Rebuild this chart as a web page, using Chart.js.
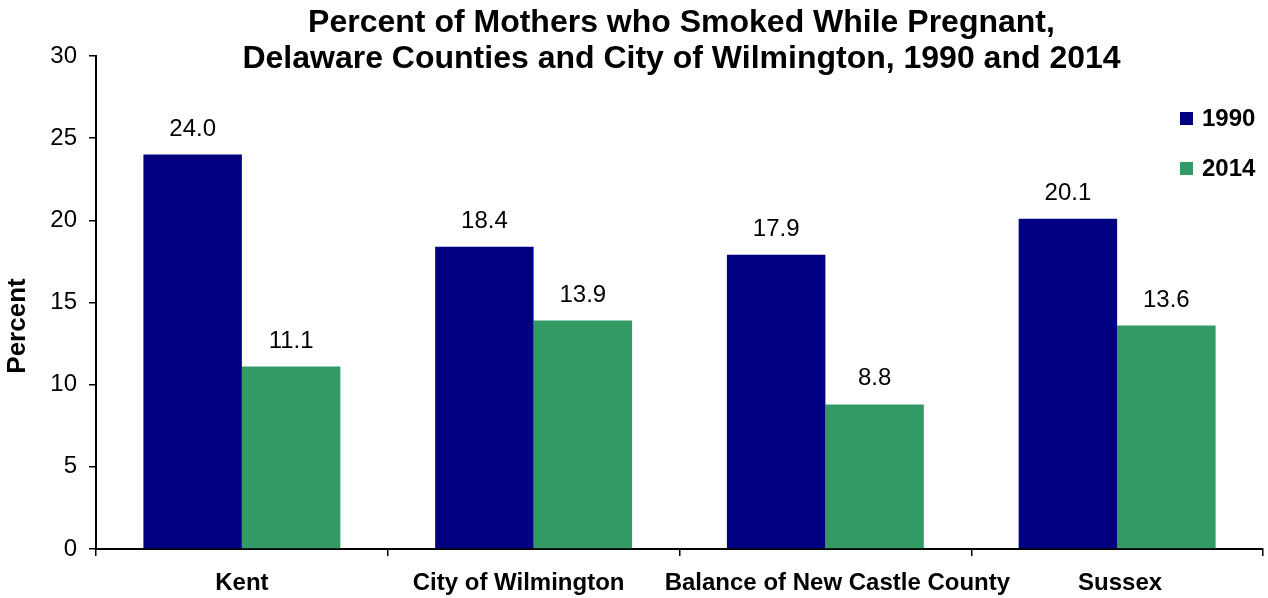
<!DOCTYPE html>
<html>
<head>
<meta charset="utf-8">
<style>
  html, body { margin: 0; padding: 0; background: #ffffff; }
  #wrap { position: relative; width: 1268px; height: 598px; }
</style>
<script src="https://cdn.jsdelivr.net/npm/chart.js@4/dist/chart.umd.min.js"></script>
</head>
<body>
<div id="wrap"><canvas id="c" width="1268" height="598"></canvas></div>
<script>
const categories = ["Kent", "City of Wilmington", "Balance of New Castle County", "Sussex"];
const values1990 = [24.0, 18.4, 17.9, 20.1];
const values2014 = [11.1, 13.9, 8.8, 13.6];
const seriesNames = ["1990", "2014"];
const titleLines = ["Percent of Mothers who Smoked While Pregnant,", "Delaware Counties and City of Wilmington, 1990 and 2014"];
const yAxisTitle = "Percent";
const yTicks = [0, 5, 10, 15, 20, 25, 30];

const FONT = "'Liberation Sans', Arial, Helvetica, sans-serif";
const NAVY = "#000080";
const GREEN = "#339966";
// small horizontal nudges of category labels (layout style, px), as in the original
const labelNudge = [0, -15, 12, 3];

const overlayPlugin = {
  id: 'overlay',
  afterDraw(chart) {
    const ctx = chart.ctx;
    const area = chart.chartArea;
    ctx.save();
    // Title
    ctx.fillStyle = '#000';
    ctx.font = "bold 32px " + FONT;
    ctx.textAlign = 'center';
    ctx.textBaseline = 'middle';
    const cx = (area.left + area.right) / 2 + 2;
    ctx.fillText(titleLines[0], cx, 23);
    ctx.fillText(titleLines[1], cx, 59);
    // Y axis title
    ctx.save();
    ctx.translate(18, 326);
    ctx.rotate(-Math.PI / 2);
    ctx.font = "bold 26px " + FONT;
    ctx.fillText(yAxisTitle, 0, 0);
    ctx.restore();
    // Category labels
    const xs = chart.scales.x;
    ctx.font = "bold 24px " + FONT;
    categories.forEach((c, i) => {
      ctx.fillText(c, xs.getPixelForValue(i) + labelNudge[i], xs.top + 34);
    });
    // Data labels
    ctx.font = "24px " + FONT;
    ctx.textBaseline = 'alphabetic';
    chart.data.datasets.forEach((ds, di) => {
      const meta = chart.getDatasetMeta(di);
      meta.data.forEach((bar, i) => {
        ctx.fillText(ds.data[i].toFixed(1), bar.x, bar.y - 19);
      });
    });
    // Legend
    const items = [{ t: seriesNames[0], c: NAVY, y: 118 }, { t: seriesNames[1], c: GREEN, y: 168 }];
    ctx.font = "bold 24px " + FONT;
    ctx.textAlign = 'left';
    ctx.textBaseline = 'middle';
    items.forEach(it => {
      ctx.fillStyle = it.c;
      ctx.fillRect(1180, it.y - 6, 13, 13);
      ctx.fillStyle = '#000';
      ctx.fillText(it.t, 1202, it.y + 1);
    });
    ctx.restore();
  }
};

new Chart(document.getElementById('c'), {
  type: 'bar',
  data: {
    labels: categories,
    datasets: [
      { label: seriesNames[0], data: values1990, backgroundColor: NAVY, borderWidth: 0 },
      { label: seriesNames[1], data: values2014, backgroundColor: GREEN, borderWidth: 0 }
    ]
  },
  options: {
    responsive: false,
    animation: false,
    devicePixelRatio: 1,
    layout: { padding: { top: 56, right: 5, left: 0, bottom: 0 } },
    categoryPercentage: 0.675,
    barPercentage: 1.0,
    plugins: {
      legend: { display: false },
      title: { display: false },
      tooltip: { enabled: false }
    },
    scales: {
      x: {
        grid: { display: true, drawOnChartArea: false, drawTicks: true, tickLength: 7, color: '#000', lineWidth: 1.5, offset: true },
        border: { display: true, color: '#000', width: 2 },
        ticks: { display: false },
        afterFit(scale) { scale.height = 49; }
      },
      y: {
        min: 0,
        max: 30,
        afterBuildTicks(scale) { scale.ticks = yTicks.map(v => ({ value: v })); },
        grid: { display: true, drawOnChartArea: false, drawTicks: true, tickLength: 7, color: '#000', lineWidth: 1.5 },
        border: { display: true, color: '#000', width: 2 },
        ticks: { color: '#000', font: { family: FONT, size: 24 }, padding: 12 },
        title: { display: false },
        afterFit(scale) { scale.width = 96; }
      }
    }
  },
  plugins: [overlayPlugin]
});
</script>
</body>
</html>
